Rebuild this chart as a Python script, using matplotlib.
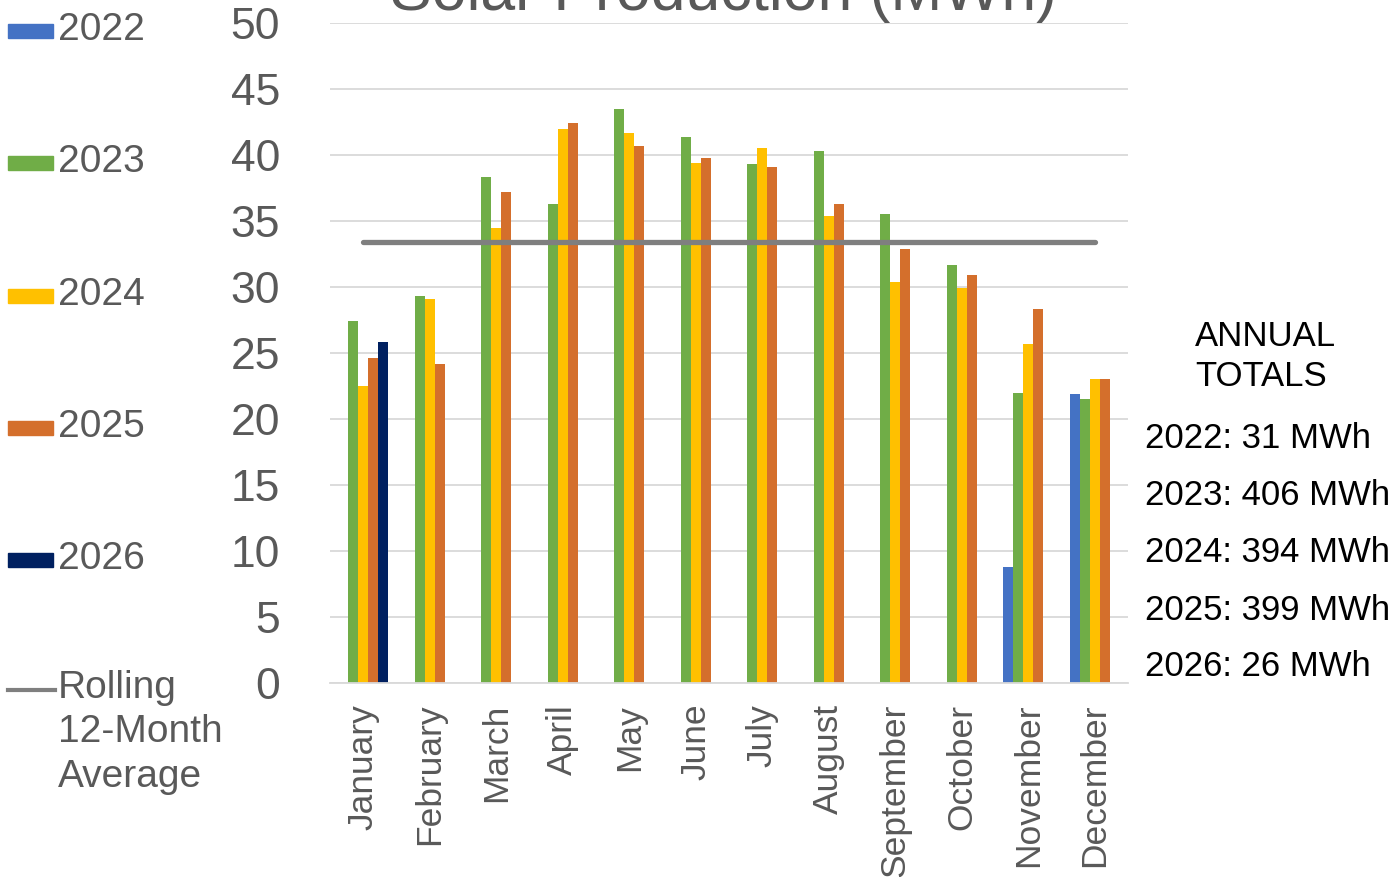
import numpy as np
import matplotlib.pyplot as plt
from matplotlib.patches import Rectangle
from matplotlib.lines import Line2D

plt.rcParams['font.family'] = ['Liberation Sans', 'DejaVu Sans']

months = ['January', 'February', 'March', 'April', 'May', 'June', 'July',
          'August', 'September', 'October', 'November', 'December']
years = ['2022', '2023', '2024', '2025', '2026']
nan = np.nan
y2022 = [nan, nan, nan, nan, nan, nan, nan, nan, nan, nan, 8.8, 21.9]
y2023 = [27.4, 29.3, 38.3, 36.3, 43.5, 41.4, 39.3, 40.3, 35.5, 31.7, 22.0, 21.5]
y2024 = [22.5, 29.1, 34.5, 42.0, 41.7, 39.4, 40.5, 35.4, 30.4, 29.9, 25.7, 23.0]
y2025 = [24.6, 24.2, 37.2, 42.4, 40.7, 39.8, 39.1, 36.3, 32.9, 30.9, 28.3, 23.0]
y2026 = [25.8, nan, nan, nan, nan, nan, nan, nan, nan, nan, nan, nan]
rolling = [33.4] * 12
totals = ['2022: 31 MWh', '2023: 406 MWh', '2024: 394 MWh', '2025: 399 MWh', '2026: 26 MWh']

series = [y2022, y2023, y2024, y2025, y2026]
colors = ['#4472C4', '#70AD47', '#FFC000', '#D46F2C', '#002060']
grey = '#595959'

W, H = 1395, 877
fig = plt.figure(figsize=(13.95, 8.77), dpi=100)
ax = fig.add_axes([330 / W, 1 - 683 / H, 798 / W, 660 / H])

x = np.arange(len(months))
bw = 0.15
for i, (vals, c) in enumerate(zip(series, colors)):
    ax.bar(x + (i - 2) * bw, vals, bw, color=c, zorder=2)
ax.plot(x, rolling, color='#7F7F7F', lw=3.8, solid_capstyle='round', zorder=3)

ax.set_xlim(-0.5, 11.5)
ax.set_ylim(0, 50)
ax.set_yticks(range(0, 51, 5))
ax.yaxis.grid(True, color='#D9D9D9', lw=1.3, zorder=0)
ax.set_axisbelow(True)
for s in ['top', 'right', 'left']:
    ax.spines[s].set_visible(False)
ax.spines['bottom'].set_color('#D9D9D9')
ax.spines['bottom'].set_linewidth(1.3)
ax.set_xticks(x)
ax.set_xticklabels(months, rotation=90, va='top', ha='center')
ax.tick_params(axis='x', length=0, pad=15, labelsize=25.5, labelcolor=grey)
ax.tick_params(axis='y', length=0, pad=36, labelsize=32, labelcolor=grey)

fig.text(723 / W, 1 - 10 / H, 'Solar Production (MWh)', ha='center',
         va='baseline', fontsize=45, color=grey)

# legend on the left
leg_y = [31, 163, 296, 428, 560]
for yr, c, yy in zip(years, colors, leg_y):
    fig.patches.append(Rectangle((8 / W, 1 - (yy + 7) / H), 45 / W, 14 / H,
                                 transform=fig.transFigure, color=c))
    fig.text(58 / W, 1 - (yy - 1) / H, yr, va='center', ha='left', fontsize=28, color=grey)
fig.lines.append(Line2D([8 / W, 55 / W], [1 - 690 / H, 1 - 690 / H],
                        transform=fig.transFigure, color='#7F7F7F', lw=3))
fig.text(58 / W, 1 - 670 / H, 'Rolling\n12-Month\nAverage', va='top', ha='left',
         fontsize=28, color=grey, linespacing=1.3)

# annual totals
fig.text(1195 / W, 1 - 320 / H, 'ANNUAL\nTOTALS', va='top', ha='left',
         fontsize=25, color='black', linespacing=1.25)
for k, t in enumerate(totals):
    fig.text(1145 / W, 1 - (439 + k * 57) / H, t, va='center', ha='left',
             fontsize=25, color='black')

fig.savefig('out.png', dpi=100)
